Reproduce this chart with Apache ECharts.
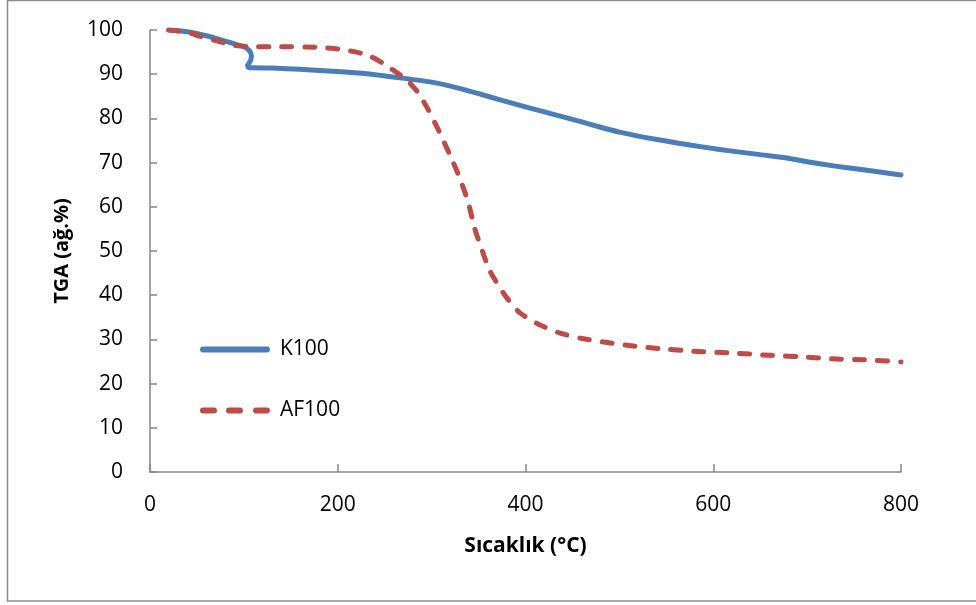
<!DOCTYPE html>
<html>
<head>
<meta charset="utf-8">
<script src="https://cdn.jsdelivr.net/npm/echarts@6/dist/echarts.min.js"></script>
<style>
  html, body { margin: 0; padding: 0; background: #fff; }
</style>
</head>
<body>
<div id="main" style="width: 976px; height: 605px"></div>
<script>
// sicaklik (°C) ve TGA (ag.%) degerleri
var k100Temp = [20, 40, 60, 80, 100, 106, 108, 107, 104, 105, 130, 160, 200, 240, 266, 300, 320, 350, 373, 400, 430, 460, 480, 500, 530, 560, 590, 620, 650, 680, 700, 730, 760, 800];
var k100Tga = [100, 99.6, 98.7, 97.5, 96.2, 95.3, 94.2, 93, 92, 91.5, 91.4, 91.1, 90.6, 89.9, 89.2, 88.2, 87.3, 85.6, 84.2, 82.6, 80.9, 79.2, 78, 76.9, 75.6, 74.5, 73.5, 72.6, 71.8, 71, 70.2, 69.2, 68.4, 67.2];

var af100Temp = [20, 40, 53, 70, 88, 107, 140, 178, 200, 220, 235, 248, 262, 274, 285, 295, 307, 320, 330, 339, 346, 354, 362, 378, 394, 415, 437, 460, 487, 515, 543, 580, 621, 660, 700, 727, 760, 800];
var af100Tga = [100, 99.5, 98.6, 97.6, 96.6, 96.2, 96.2, 96.1, 95.7, 95, 94, 92.5, 90.5, 88.6, 86, 82.5, 77.5, 71.5, 66.5, 61, 55, 50, 45.5, 40, 36, 33.3, 31.4, 30.2, 29.3, 28.5, 27.9, 27.3, 26.9, 26.4, 26, 25.6, 25.4, 24.9];

var xTicks = [0, 200, 400, 600, 800];
var yTicks = [0, 10, 20, 30, 40, 50, 60, 70, 80, 90, 100];

function pairs(xs, ys) {
  var out = [];
  for (var i = 0; i < xs.length; i++) {
    out.push([xs[i], ys[i]]);
  }
  return out;
}

var myChart = echarts.init(document.getElementById("main"));

var axisGray = "#868686";
var fontName = "Open Sans";

// legend ikonlari: duz cizgi ve kesikli cizgi
var solidIcon = "path://M3,0H67A3,3,0,0,1,67,6H3A3,3,0,0,1,3,0Z";
var dashIcon = "path://M3,0H14A3,3,0,0,1,14,6H3A3,3,0,0,1,3,0Z" +
  "M29,0H40A3,3,0,0,1,40,6H29A3,3,0,0,1,29,0Z" +
  "M56,0H67A3,3,0,0,1,67,6H56A3,3,0,0,1,56,0Z";

myChart.setOption({
  animation: false,
  textStyle: { fontFamily: fontName },
  // dis cerceve
  graphic: [
    {
      type: "rect",
      shape: { x: 7.5, y: 0.5, width: 975, height: 600.5 },
      style: { fill: "none", stroke: "#8c8c8c", lineWidth: 1.5 }
    }
  ],
  grid: {
    left: 150,
    right: 75,
    top: 30,
    bottom: 133
  },
  legend: {
    orient: "vertical",
    left: 195,
    top: 334,
    itemWidth: 70,
    itemHeight: 6,
    itemGap: 40,
    textStyle: { fontSize: 21, color: "#000", fontFamily: fontName, padding: [0, 0, 0, 5] },
    data: [
      { name: "K100", icon: solidIcon },
      { name: "AF100", icon: dashIcon }
    ]
  },
  xAxis: {
    type: "value",
    min: xTicks[0],
    max: xTicks[xTicks.length - 1],
    interval: 200,
    name: "Sıcaklık (°C)",
    nameLocation: "middle",
    nameGap: 64,
    nameTextStyle: { fontSize: 21, fontWeight: "bold", color: "#000", fontFamily: fontName },
    axisLine: { show: true, lineStyle: { color: axisGray, width: 1.5 } },
    axisTick: { show: true, inside: true, length: 8, lineStyle: { color: axisGray, width: 1.5 } },
    axisLabel: { fontSize: 21, color: "#000", margin: 23, fontFamily: fontName },
    splitLine: { show: false }
  },
  yAxis: {
    type: "value",
    min: yTicks[0],
    max: yTicks[yTicks.length - 1],
    interval: 10,
    name: "TGA (ağ.%)",
    nameLocation: "middle",
    nameGap: 78,
    nameTextStyle: { fontSize: 20, fontWeight: "bold", color: "#000", fontFamily: fontName },
    axisLine: { show: true, lineStyle: { color: axisGray, width: 1.5 } },
    axisTick: { show: true, inside: true, length: 7, lineStyle: { color: axisGray, width: 1.5 } },
    axisLabel: { fontSize: 21, color: "#000", margin: 27, fontFamily: fontName },
    splitLine: { show: false }
  },
  series: [
    {
      name: "K100",
      type: "line",
      data: pairs(k100Temp, k100Tga),
      showSymbol: false,
      symbol: "none",
      smooth: 0.2,
      itemStyle: { color: "#4a7ebb" },
      lineStyle: { color: "#4a7ebb", width: 5, cap: "round", join: "round" }
    },
    {
      name: "AF100",
      type: "line",
      data: pairs(af100Temp, af100Tga),
      showSymbol: false,
      symbol: "none",
      smooth: 0.2,
      itemStyle: { color: "#be4b48" },
      lineStyle: { color: "#be4b48", width: 5, type: [10, 13], cap: "round", join: "round" }
    }
  ]
});
</script>
</body>
</html>
